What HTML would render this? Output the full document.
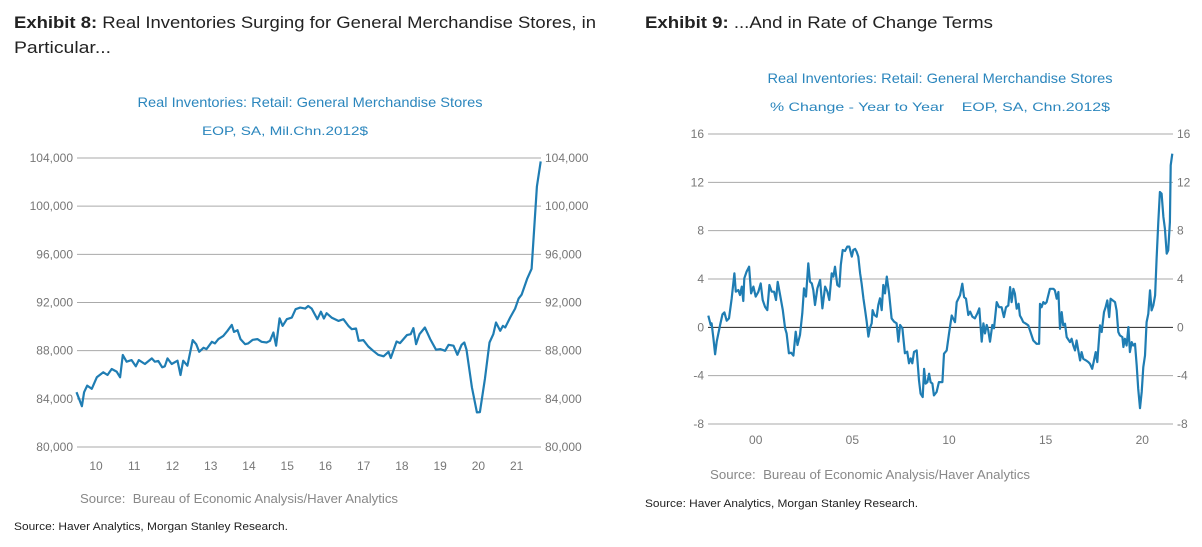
<!DOCTYPE html>
<html><head><meta charset="utf-8"><style>
html,body{margin:0;padding:0;background:#fff;}
svg{display:block;font-family:"Liberation Sans",sans-serif;}
</style></head><body>
<svg id="root" width="1202" height="547" viewBox="0 0 1202 547">
<g>
<text x="14" y="28" font-size="17" fill="#222" textLength="582" lengthAdjust="spacingAndGlyphs"><tspan font-weight="bold">Exhibit 8:</tspan>  Real Inventories Surging for General Merchandise Stores, in</text>
<text x="14" y="53" font-size="17" fill="#222" textLength="97" lengthAdjust="spacingAndGlyphs">Particular...</text>
</g>
<text x="645" y="28" font-size="17" fill="#222" textLength="348" lengthAdjust="spacingAndGlyphs"><tspan font-weight="bold">Exhibit 9:</tspan>  ...And in Rate of Change Terms</text>
<text x="310" y="107" font-size="14" fill="#2b86bd" text-anchor="middle" textLength="345" lengthAdjust="spacingAndGlyphs">Real Inventories: Retail: General Merchandise Stores</text>
<text x="285" y="135" font-size="12" fill="#2b86bd" text-anchor="middle" textLength="166" lengthAdjust="spacingAndGlyphs">EOP, SA, Mil.Chn.2012$</text>
<text x="940" y="83" font-size="14" fill="#2b86bd" text-anchor="middle" textLength="345" lengthAdjust="spacingAndGlyphs">Real Inventories: Retail: General Merchandise Stores</text>
<text x="940" y="111" font-size="12" fill="#2b86bd" text-anchor="middle" textLength="340" lengthAdjust="spacingAndGlyphs" xml:space="preserve">% Change - Year to Year    EOP, SA, Chn.2012$</text>
<text x="80" y="503" font-size="13" fill="#888" textLength="318" lengthAdjust="spacingAndGlyphs" xml:space="preserve">Source:  Bureau of Economic Analysis/Haver Analytics</text>
<text x="710" y="479" font-size="13" fill="#888" textLength="320" lengthAdjust="spacingAndGlyphs" xml:space="preserve">Source:  Bureau of Economic Analysis/Haver Analytics</text>
<text x="14" y="530" font-size="11" fill="#222" textLength="274" lengthAdjust="spacingAndGlyphs">Source: Haver Analytics, Morgan Stanley Research.</text>
<text x="645" y="507" font-size="11" fill="#222" textLength="273" lengthAdjust="spacingAndGlyphs">Source: Haver Analytics, Morgan Stanley Research.</text>
<g id="c1"></g><g id="c2"></g>
</svg>
<script>
// Chart 1 data
const c1Dates=[2009.49,2009.63,2009.69,2009.77,2009.89,2010.02,2010.19,2010.30,2010.41,2010.54,2010.63,2010.70,2010.80,2010.93,2011.04,2011.12,2011.28,2011.46,2011.54,2011.63,2011.73,2011.80,2011.87,2011.98,2012.13,2012.21,2012.28,2012.39,2012.53,2012.62,2012.70,2012.81,2012.89,2013.03,2013.11,2013.20,2013.33,2013.44,2013.55,2013.61,2013.70,2013.78,2013.90,2013.98,2014.10,2014.22,2014.33,2014.46,2014.55,2014.64,2014.71,2014.80,2014.88,2014.99,2015.12,2015.22,2015.34,2015.47,2015.55,2015.64,2015.79,2015.88,2015.96,2016.03,2016.16,2016.34,2016.47,2016.60,2016.69,2016.80,2016.87,2016.99,2017.12,2017.25,2017.38,2017.52,2017.65,2017.71,2017.86,2017.95,2018.13,2018.23,2018.30,2018.37,2018.46,2018.60,2018.74,2018.89,2019.01,2019.13,2019.22,2019.35,2019.45,2019.56,2019.63,2019.69,2019.83,2019.96,2020.04,2020.17,2020.29,2020.39,2020.46,2020.57,2020.64,2020.70,2020.83,2020.96,2021.05,2021.13,2021.28,2021.39,2021.53,2021.63];
const c1Values=[84550,83390,84550,85100,84830,85790,86200,85980,86480,86260,85790,87640,87080,87220,86700,87220,86890,87360,87080,87140,86620,86700,87360,86890,87170,85980,87170,86750,88880,88540,87910,88240,88130,88740,88600,88960,89230,89650,90140,89560,89700,88960,88540,88600,88900,88960,88740,88680,88820,89510,88410,90690,90060,90610,90750,91440,91580,91490,91710,91490,90610,91240,90670,91110,90750,90470,90610,90060,89780,89840,88820,88880,88350,87990,87660,87530,87910,87390,88760,88630,89290,89370,89870,88540,89370,89920,88960,88080,88130,87990,88490,88410,87660,88490,88680,88080,84960,82870,82900,85650,88680,89370,90340,89650,90060,89920,90750,91490,92320,92650,94000,94800,101630,103720];
const c1Ticks=[80000,84000,88000,92000,96000,100000,104000];
const c1TickLabels=["80,000","84,000","88,000","92,000","96,000","100,000","104,000"];
const c1Years=[2010,2011,2012,2013,2014,2015,2016,2017,2018,2019,2020,2021];
const c1YearLabels=["10","11","12","13","14","15","16","17","18","19","20","21"];
// Chart 2 data
const c2Dates=[1997.55,1997.67,1997.72,1997.81,1997.90,1997.98,1998.16,1998.28,1998.38,1998.50,1998.62,1998.76,1998.90,1998.97,1999.10,1999.19,1999.28,1999.36,1999.41,1999.53,1999.66,1999.76,1999.88,2000.00,2000.14,2000.26,2000.36,2000.48,2000.60,2000.71,2000.83,2000.95,2001.05,2001.14,2001.26,2001.40,2001.52,2001.60,2001.72,2001.83,2001.95,2002.07,2002.16,2002.29,2002.41,2002.50,2002.60,2002.72,2002.81,2002.90,2002.98,2003.07,2003.19,2003.33,2003.45,2003.59,2003.71,2003.81,2003.93,2004.02,2004.10,2004.22,2004.33,2004.40,2004.50,2004.62,2004.74,2004.84,2004.97,2005.05,2005.14,2005.22,2005.31,2005.40,2005.48,2005.57,2005.66,2005.74,2005.83,2005.91,2006.00,2006.05,2006.14,2006.26,2006.34,2006.43,2006.52,2006.60,2006.69,2006.78,2006.90,2007.03,2007.16,2007.29,2007.38,2007.47,2007.59,2007.72,2007.84,2007.93,2008.02,2008.10,2008.19,2008.33,2008.45,2008.53,2008.64,2008.71,2008.79,2008.88,2008.97,2009.05,2009.14,2009.22,2009.36,2009.48,2009.57,2009.66,2009.74,2009.88,2010.00,2010.14,2010.22,2010.31,2010.40,2010.57,2010.69,2010.78,2010.88,2011.00,2011.09,2011.21,2011.34,2011.47,2011.57,2011.69,2011.78,2011.86,2011.95,2012.03,2012.12,2012.24,2012.33,2012.47,2012.59,2012.72,2012.84,2012.95,2013.07,2013.16,2013.24,2013.33,2013.41,2013.50,2013.60,2013.67,2013.76,2013.84,2013.98,2014.10,2014.19,2014.36,2014.53,2014.66,2014.71,2014.79,2014.88,2014.97,2015.05,2015.22,2015.40,2015.48,2015.57,2015.66,2015.74,2015.83,2015.91,2016.00,2016.09,2016.26,2016.34,2016.43,2016.52,2016.60,2016.69,2016.78,2016.86,2016.95,2017.09,2017.21,2017.29,2017.41,2017.50,2017.59,2017.67,2017.81,2017.90,2018.02,2018.10,2018.19,2018.29,2018.36,2018.47,2018.59,2018.67,2018.76,2018.84,2018.97,2019.02,2019.10,2019.19,2019.28,2019.36,2019.45,2019.53,2019.62,2019.71,2019.79,2019.88,2019.97,2020.05,2020.14,2020.22,2020.31,2020.40,2020.48,2020.57,2020.66,2020.74,2020.83,2020.91,2021.00,2021.09,2021.17,2021.26,2021.34,2021.43,2021.47,2021.55];
const c2Values=[0.97,0.19,0.33,-0.90,-2.23,-1.19,0.19,1.08,1.24,0.55,0.74,2.40,4.47,2.95,3.09,2.68,3.37,2.18,4.06,4.61,5.02,2.81,3.37,2.54,2.95,3.64,2.26,1.71,1.43,3.50,2.95,2.95,2.26,3.77,2.68,1.43,-0.08,-0.50,-2.15,-2.10,-2.34,-0.36,-1.46,-0.63,1.16,3.23,2.54,5.30,3.78,3.64,3.09,1.85,3.23,3.92,1.57,3.37,2.95,2.26,4.47,4.20,5.02,3.50,3.37,5.16,6.40,6.32,6.68,6.68,5.85,6.40,6.49,6.27,5.85,4.47,3.64,2.40,1.43,0.47,-0.77,-0.08,0.33,1.43,1.02,0.88,1.85,2.40,1.43,3.50,2.81,4.20,2.81,0.74,0.47,0.33,-1.19,0.19,-0.08,-2.15,-2.01,-2.98,-2.57,-2.98,-2.04,-1.91,-4.39,-5.49,-5.77,-3.43,-4.66,-4.53,-3.84,-4.53,-4.66,-5.63,-5.35,-4.53,-4.53,-4.53,-2.18,-1.91,-0.53,0.98,0.71,0.43,2.09,2.64,3.61,2.50,2.37,1.02,1.30,0.88,0.74,1.16,1.57,-1.19,0.33,-0.50,0.19,-0.22,-1.19,0.19,-0.08,2.09,1.67,1.67,0.85,1.67,1.81,3.33,2.09,3.19,2.78,1.54,1.95,0.98,0.71,0.43,0.30,0.16,-0.26,-1.09,-1.36,-1.36,1.95,1.67,2.09,1.95,2.09,3.19,3.19,3.06,2.37,2.92,-0.12,1.26,0.16,0.30,-0.81,-1.22,-0.95,-1.50,-1.91,-1.09,-1.91,-2.74,-2.05,-2.60,-2.74,-2.88,-3.01,-3.43,-2.74,-2.05,-2.88,0.16,-0.39,1.26,1.67,2.23,0.85,2.37,2.23,2.09,1.40,-0.39,-0.67,-0.81,-1.63,-0.95,-1.50,0.02,-2.05,-1.22,-1.50,-1.36,-3.15,-5.08,-6.68,-5.35,-3.29,-2.33,0.43,1.12,3.06,1.40,1.81,2.64,5.68,8.72,11.20,11.06,9.13,8.17,6.10,6.37,8.72,13.41,14.37];
const c2Ticks=[-8,-4,0,4,8,12,16];
const c2TickLabels=["-8","-4","0","4","8","12","16"];
const c2Years=[2000,2005,2010,2015,2020];
const c2YearLabels=["00","05","10","15","20"];

const NS="http://www.w3.org/2000/svg";
function mk(parent,tag,attrs){const e=document.createElementNS(NS,tag);for(const k in attrs)e.setAttribute(k,attrs[k]);parent.appendChild(e);return e;}

function draw(g,cfg,dates,values,ticks,tickLabels,years,yearLabels,prefix){
  const xs=t=>cfg.x0+(t-cfg.t0)*cfg.pxYear;
  const ys=v=>cfg.yTop+(cfg.vMax-v)*(cfg.yBot-cfg.yTop)/(cfg.vMax-cfg.vMin);
  ticks.forEach((v,i)=>{
    const y=ys(v);
    const ln=mk(g,"line",{x1:cfg.gL,x2:cfg.gR,y1:y,y2:y,stroke:(v===0&&cfg.zeroDark)?"#222":"#aaa","stroke-width":1});
    
    
    const tl=mk(g,"text",{x:cfg.gL-4,y:y+4,"font-size":12,fill:"#777","text-anchor":"end"});
    tl.textContent=tickLabels[i];
    
    
    const tr=mk(g,"text",{x:cfg.gR+4,y:y+4,"font-size":12,fill:"#777"});
    tr.textContent=tickLabels[i];
    
    
  });
  years.forEach((t,i)=>{
    const xl=mk(g,"text",{x:xs(t),y:cfg.xLabY,"font-size":12,fill:"#777","text-anchor":"middle"});
    xl.textContent=yearLabels[i];
    
    
  });
  const d=dates.map((t,i)=>(i?"L":"M")+xs(t).toFixed(1)+","+ys(values[i]).toFixed(1)).join("");
  const p=mk(g,"path",{d:d,fill:"none",stroke:"#1f7db3","stroke-width":2.2,"stroke-linejoin":"round"});
  
  
}
const g1=document.getElementById("c1");


const g2=document.getElementById("c2");


draw(g1,{x0:96,t0:2010,pxYear:38.24,yTop:158,yBot:447,vMax:104000,vMin:80000,gL:77,gR:541,xLabY:470,zeroDark:false},c1Dates,c1Values,c1Ticks,c1TickLabels,c1Years,c1YearLabels,"chart1");
draw(g2,{x0:755.7,t0:2000,pxYear:19.33,yTop:134,yBot:424,vMax:16,vMin:-8,gL:708,gR:1173,xLabY:444,zeroDark:true},c2Dates,c2Values,c2Ticks,c2TickLabels,c2Years,c2YearLabels,"chart2");
</script>
</body></html>
